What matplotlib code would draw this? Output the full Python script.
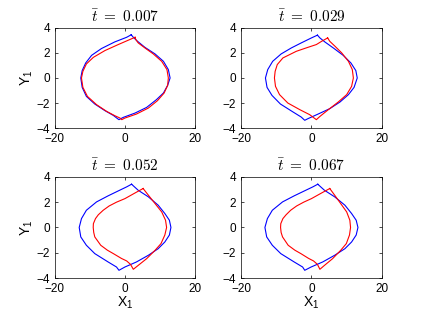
import matplotlib
matplotlib.use('Agg')
import matplotlib.pyplot as plt

plt.rcParams['font.family'] = ['Liberation Sans', 'DejaVu Sans']
plt.rcParams['mathtext.fontset'] = 'cm'

titles = ['0.007', '0.029', '0.052', '0.067']

# panel 1 (t = 0.007)
p1_blue_x = [1.8, 0.5, -2.9, -6.7, -9.5, -11.2, -12.2, -12.6, -12.2, -11.0, -8.6, -5.7, -3.3, -2.1, -1.7,
             -0.5, 2.9, 6.2, 9.0, 11.0, 12.2, 12.9, 12.4, 11.0, 8.6, 5.7, 3.6, 2.4, 1.8]
p1_blue_y = [3.45, 3.25, 2.88, 2.35, 1.81, 1.2, 0.59, 0.0, -0.75, -1.47, -2.08, -2.61, -2.99, -3.25, -3.33,
             -3.15, -2.8, -2.35, -1.73, -1.2, -0.59, 0.0, 0.67, 1.33, 1.92, 2.45, 2.93, 3.25, 3.45]
p1_red_x = [2.9, 1.4, -1.9, -5.7, -9.0, -11.0, -12.0, -12.4, -12.0, -10.7, -8.1, -5.2, -2.9, -1.4, -0.9,
            0.0, 3.3, 6.7, 9.3, 11.2, 12.2, 12.4, 12.0, 10.5, 8.1, 5.7, 3.8, 3.1, 2.9]
p1_red_y = [3.25, 3.07, 2.67, 2.19, 1.65, 1.12, 0.53, 0.0, -0.75, -1.47, -2.13, -2.67, -3.01, -3.2, -3.33,
            -3.2, -2.88, -2.4, -1.81, -1.2, -0.59, 0.0, 0.67, 1.33, 1.92, 2.4, 2.8, 3.07, 3.25]

# panel 2 (t = 0.029)
p2_blue_x = [1.7, 0.0, -2.9, -5.7, -8.6, -11.0, -12.4, -13.05, -12.6, -11.2, -8.8, -5.2, -2.9, -1.9,
             -1.0, 1.9, 5.2, 8.1, 10.5, 12.1, 13.0, 12.6, 11.2, 9.0, 6.2, 3.8, 2.4, 1.7]
p2_blue_y = [3.42, 3.2, 2.8, 2.4, 1.92, 1.33, 0.67, 0.0, -0.75, -1.39, -2.08, -2.72, -3.12, -3.38,
             -3.25, -2.88, -2.45, -1.92, -1.33, -0.75, 0.0, 0.59, 1.2, 1.81, 2.4, 2.88, 3.2, 3.42]
p2_red_x = [4.6, 2.9, 1.4, -1.5, -4.3, -8.1, -9.7, -10.3, -10.5, -10.2, -9.05, -6.7, -3.3, -0.5, 1.4,
            2.4, 4.8, 7.6, 10.0, 11.4, 11.9, 11.6, 10.5, 8.6, 6.7, 5.2, 4.6]
p2_red_y = [3.2, 2.93, 2.67, 2.4, 2.13, 1.6, 1.07, 0.53, 0.0, -0.67, -1.33, -2.0, -2.53, -2.93, -3.33,
            -3.07, -2.53, -1.92, -1.33, -0.67, 0.0, 0.67, 1.33, 2.0, 2.53, 2.93, 3.2]

# panel 3 (t = 0.052)
p3_blue_x = [1.9, 0.5, -1.9, -4.8, -8.1, -11.0, -12.4, -13.05, -12.6, -11.0, -8.6, -4.8, -2.4, -1.7,
             0.0, 3.3, 6.7, 9.5, 11.4, 12.7, 13.14, 12.7, 11.4, 9.5, 6.7, 3.8, 1.9]
p3_blue_y = [3.42, 3.21, 2.89, 2.5, 2.02, 1.36, 0.7, 0.0, -0.75, -1.41, -2.07, -2.73, -3.13, -3.39,
             -3.13, -2.73, -2.2, -1.68, -1.15, -0.6, 0.0, 0.57, 1.1, 1.76, 2.42, 2.94, 3.42]
p3_red_x = [5.2, 2.9, 0.0, -2.4, -4.5, -6.2, -7.6, -8.4, -9.0, -9.05, -8.9, -8.6, -6.9, -5.0, -3.3, -1.0,
            0.5, 1.6, 2.4, 3.8, 6.2, 8.6, 10.3, 11.4, 11.9, 11.6, 10.5, 8.6, 6.7, 5.2]
p3_red_y = [3.08, 2.73, 2.28, 2.0, 1.7, 1.36, 1.0, 0.7, 0.3, 0.0, -0.4, -0.75, -1.41, -1.8, -2.07, -2.45,
            -2.65, -2.92, -3.31, -3.0, -2.47, -1.81, -1.28, -0.6, 0.0, 0.57, 1.23, 1.89, 2.55, 3.08]

# panel 4 (t = 0.067)
p4_blue_x = [1.8, 0.4, -2.0, -4.9, -8.2, -11.1, -12.5, -13.2, -12.7, -11.1, -8.7, -4.9, -2.5, -1.9,
             -0.1, 3.2, 6.6, 9.5, 11.4, 12.7, 13.2, 12.7, 11.4, 9.5, 6.6, 3.7, 1.8]
p4_blue_y = [3.42, 3.21, 2.89, 2.5, 2.02, 1.36, 0.7, 0.0, -0.75, -1.41, -2.07, -2.73, -3.13, -3.39,
             -3.13, -2.73, -2.2, -1.68, -1.15, -0.6, 0.0, 0.57, 1.1, 1.76, 2.42, 2.94, 3.42]
p4_red_x = [5.2, 2.9, 0.0, -2.2, -4.2, -5.9, -7.2, -8.1, -8.7, -8.76, -8.6, -8.2, -6.6, -4.7, -3.0, -0.8,
            0.6, 1.7, 2.4, 3.7, 6.0, 8.3, 9.9, 10.8, 11.1, 10.9, 10.0, 8.3, 6.6, 5.2]
p4_red_y = [3.08, 2.73, 2.28, 2.0, 1.7, 1.36, 1.0, 0.7, 0.3, 0.0, -0.4, -0.75, -1.41, -1.8, -2.07, -2.45,
            -2.65, -2.92, -3.31, -3.0, -2.47, -1.81, -1.28, -0.6, 0.0, 0.57, 1.23, 1.89, 2.55, 3.08]

blue = [(p1_blue_x, p1_blue_y), (p2_blue_x, p2_blue_y), (p3_blue_x, p3_blue_y), (p4_blue_x, p4_blue_y)]
red = [(p1_red_x, p1_red_y), (p2_red_x, p2_red_y), (p3_red_x, p3_red_y), (p4_red_x, p4_red_y)]

fig = plt.figure(figsize=(4.22, 3.17), dpi=100)
boxes = [[0.130, 0.596, 0.332, 0.316], [0.571, 0.596, 0.334, 0.316],
         [0.130, 0.123, 0.332, 0.319], [0.571, 0.123, 0.334, 0.319]]

for i in range(4):
    ax = fig.add_axes(boxes[i])
    ax.plot(blue[i][0], blue[i][1], color='#0000ff', lw=0.8)
    ax.plot(red[i][0], red[i][1], color='#ff0000', lw=0.8)
    ax.set_xlim(-20, 20)
    ax.set_ylim(-4, 4)
    ax.set_xticks([-20, 0, 20])
    ax.set_yticks([-4, -2, 0, 2, 4])
    ax.tick_params(direction='in', length=2.5, width=0.5, labelsize=8.5,
                   top=True, right=True)
    ax.tick_params(axis='x', pad=3.5)
    ax.tick_params(axis='y', pad=3.5)
    for s in ax.spines.values():
        s.set_linewidth(0.5)
    ax.set_title(r'$\bar{t}\ =\ ' + titles[i] + '$', fontsize=11, pad=4)
    if i % 2 == 0:
        ax.set_ylabel(r'$\mathregular{Y_1}$', fontsize=10, labelpad=1)
    if i >= 2:
        ax.set_xlabel(r'$\mathregular{X_1}$', fontsize=10, labelpad=0)

fig.savefig('out.png', dpi=100)
